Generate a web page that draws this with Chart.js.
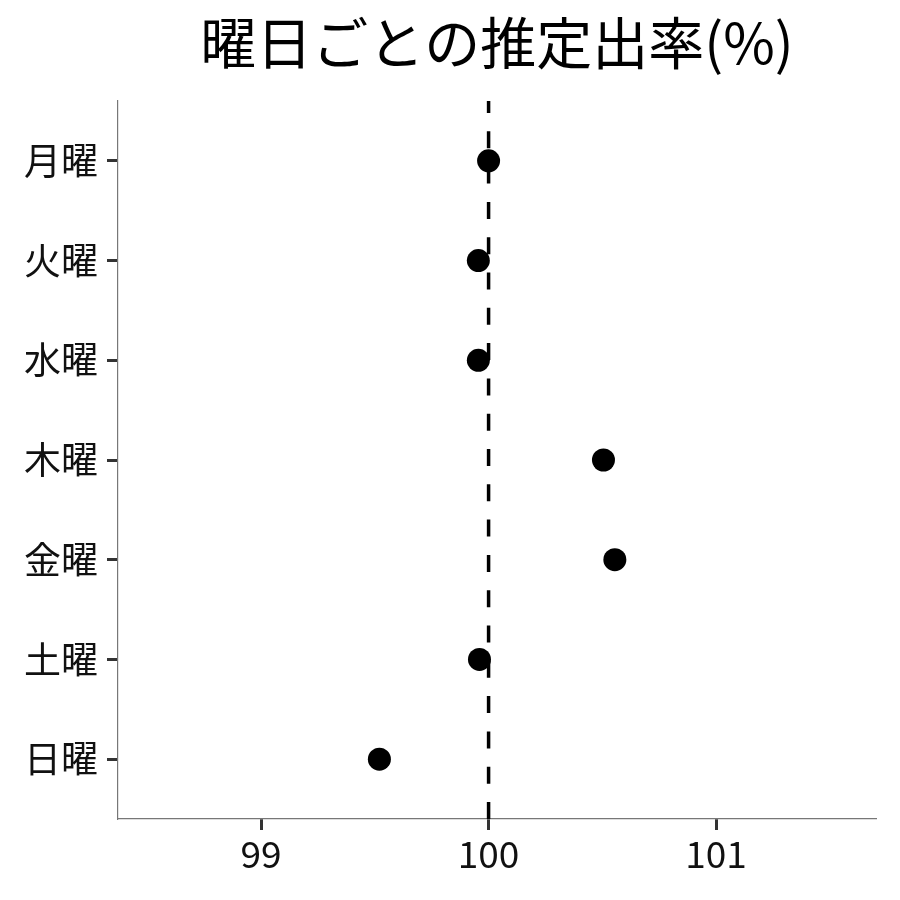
<!DOCTYPE html>
<html><head><meta charset="utf-8">
<script src="https://cdn.jsdelivr.net/npm/chart.js@4"></script>
<style>html,body{margin:0;padding:0;background:#fff}canvas{display:block}</style>
</head><body>
<canvas id="c" width="900" height="900"></canvas>
<script>
const days = ['月曜','火曜','水曜','木曜','金曜','土曜','日曜'];
const rates = [100.00, 99.955, 99.955, 100.505, 100.555, 99.96, 99.52];
const xTicks = [99, 100, 101];
const refValue = 100;
const titleText = '曜日ごとの推定出率(%)';

const FONT = "'Noto Sans CJK JP', 'Noto Sans', sans-serif";

const points = rates.map((v, i) => ({x: v, y: i}));

const overlay = {
  id: 'overlay',
  beforeDatasetsDraw(chart) {
    const ctx = chart.ctx, xs = chart.scales.x, a = chart.chartArea;
    const px = xs.getPixelForValue(refValue);
    ctx.save();
    ctx.strokeStyle = '#000';
    ctx.lineWidth = 3.5;
    ctx.setLineDash([17, 18.3]);
    ctx.beginPath();
    ctx.moveTo(px, a.bottom);
    ctx.lineTo(px, a.top);
    ctx.stroke();
    ctx.restore();
  },
  afterDraw(chart) {
    const ctx = chart.ctx;
    ctx.save();
    ctx.fillStyle = '#000';
    ctx.font = '56px ' + FONT;
    ctx.textAlign = 'center';
    ctx.textBaseline = 'middle';
    ctx.fillText(titleText, 497, 43);
    ctx.restore();
  }
};

new Chart(document.getElementById('c'), {
  type: 'scatter',
  data: { datasets: [{ data: points, backgroundColor: '#000', borderWidth: 0, pointRadius: 11.5, pointHoverRadius: 11.5 }] },
  options: {
    responsive: false, animation: false,
    layout: { padding: { top: 101, right: 24, left: 0, bottom: 0 } },
    plugins: { legend: { display: false }, tooltip: { enabled: false }, title: { display: false } },
    scales: {
      x: {
        type: 'linear', min: 98.371, max: 101.703,
        afterBuildTicks(s) { s.ticks = xTicks.map(v => ({value: v})); },
        afterFit(s) { s.height = 81; },
        grid: { drawOnChartArea: false, drawTicks: true, tickLength: 11, tickColor: '#333', tickWidth: 3 },
        border: { color: '#777', width: 1.2 },
        ticks: { color: '#111', font: { family: FONT, size: 37 }, padding: 2, callback: v => String(v) }
      },
      y: {
        type: 'linear', min: -0.6, max: 6.6, reverse: true,
        afterBuildTicks(s) { s.ticks = days.map((d, i) => ({value: i})); },
        afterFit(s) { s.width = 118; },
        grid: { drawOnChartArea: false, drawTicks: true, tickLength: 11, tickColor: '#333', tickWidth: 3 },
        border: { color: '#777', width: 1.2 },
        ticks: { color: '#111', font: { family: FONT, size: 37 }, padding: 9, callback: v => days[v] }
      }
    }
  },
  plugins: [overlay]
});
</script>
</body></html>
